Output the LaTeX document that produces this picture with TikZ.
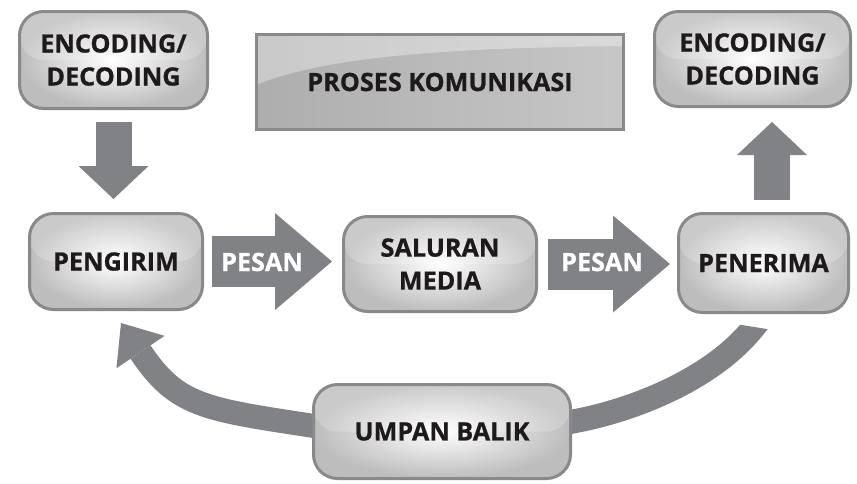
\documentclass[tikz,border=0pt]{standalone}
\usepackage{fontspec}
\setmainfont{Open Sans}[BoldFeatures={FakeBold=0.8}]
\usetikzlibrary{arrows.meta,positioning,backgrounds}
\definecolor{aGray}{RGB}{128,130,133}
\definecolor{bGray}{RGB}{135,137,140}
\definecolor{tDark}{RGB}{30,26,27}

\begin{document}
\begin{tikzpicture}[x=0.5pt,y=-0.5pt,font=\fontsize{12.6}{16.5}\selectfont\bfseries,
  b/.style={draw=bGray,line width=1.5pt,rounded corners=12pt,inner color=white,outer color=black!26,
    text=tDark,align=center,
    path picture={\fill[white,opacity=.2] (path picture bounding box.west) rectangle (path picture bounding box.north east);}},
  t/.style={draw=bGray,line width=1.5pt,left color=black!32,middle color=white,right color=black!22,
    text=tDark,minimum width=183.5pt,minimum height=47.5pt},
  pf/.style={draw=aGray,line width=25.5pt,-{Triangle[length=28.5pt,width=48.5pt,line width=0pt]}},
  ud/.style={draw=aGray,line width=18pt,-{Triangle[length=16.5pt,width=35pt,line width=0pt]}},
  fb/.style={draw=aGray,line width=12pt},
  lbl/.style={text=white}]
  \useasboundingbox (0,0) rectangle (857,483);
  % boxes
  \node[b,minimum width=94pt,minimum height=48.5pt] (enc1) at (113.5,60) {ENCODING/\\DECODING};
  \node[t] (proses) at (440,82) {PROSES KOMUNIKASI};
  \fill[white,opacity=.35] (258,84) .. controls (330,56) and (450,48) .. (622,46) -- (622,36) -- (258,36) -- cycle;
  \node[b,minimum width=98pt,minimum height=47.5pt] (enc2) at (752.5,59) {ENCODING/\\DECODING};
  \node[b,minimum width=86.5pt,minimum height=48pt] (pengirim) at (116,261.5) {PENGIRIM};
  \node[b,minimum width=96.5pt,minimum height=47.5pt] (saluran) at (440,264) {SALURAN\\MEDIA};
  \node[b,minimum width=85pt,minimum height=49.5pt] (penerima) at (763.5,263) {PENERIMA};
  \node[b,minimum width=128.5pt,minimum height=47pt] (umpan) at (442,431.5) {UMPAN BALIK};
  % block arrows
  \draw[ud] ([yshift=-6pt]enc1.south) -- ([yshift=6.5pt]enc1.south |- pengirim.north);
  \draw[ud] ([xshift=4.25pt,yshift=6pt]penerima.north) -- ([xshift=4.25pt,yshift=-7pt]penerima.north |- enc2.south);
  \draw[pf] ([xshift=4pt]pengirim.east) -- ([xshift=-5pt]pengirim.east -| saluran.west);
  \draw[pf] ([xshift=5pt]saluran.east) -- ([xshift=-3.5pt]saluran.east -| penerima.west);
  \node[lbl] (pesan1) at (262,262) {PESAN};
  \node[lbl] (pesan2) at (602,262) {PESAN};
  % feedback
  \coordinate (fbtip) at (121,323);
  \begin{scope}[on background layer]
    \draw[fb,-{Triangle[length=17.5pt,width=29pt,line width=0pt]}] ([xshift=1pt,yshift=2.75pt]umpan.west)
      .. controls (203.3,409.1) and (176.8,406) .. (fbtip);
    \clip (560,296) -- (800,334.3) -- (800,483) -- (560,483) -- cycle;
    \draw[fb] ([xshift=-1pt,yshift=4.75pt]umpan.east) .. controls (628.7,411.8) and (710.6,381.2) .. (754,327) -- (761.5,317.6);
  \end{scope}
\end{tikzpicture}
\end{document}
